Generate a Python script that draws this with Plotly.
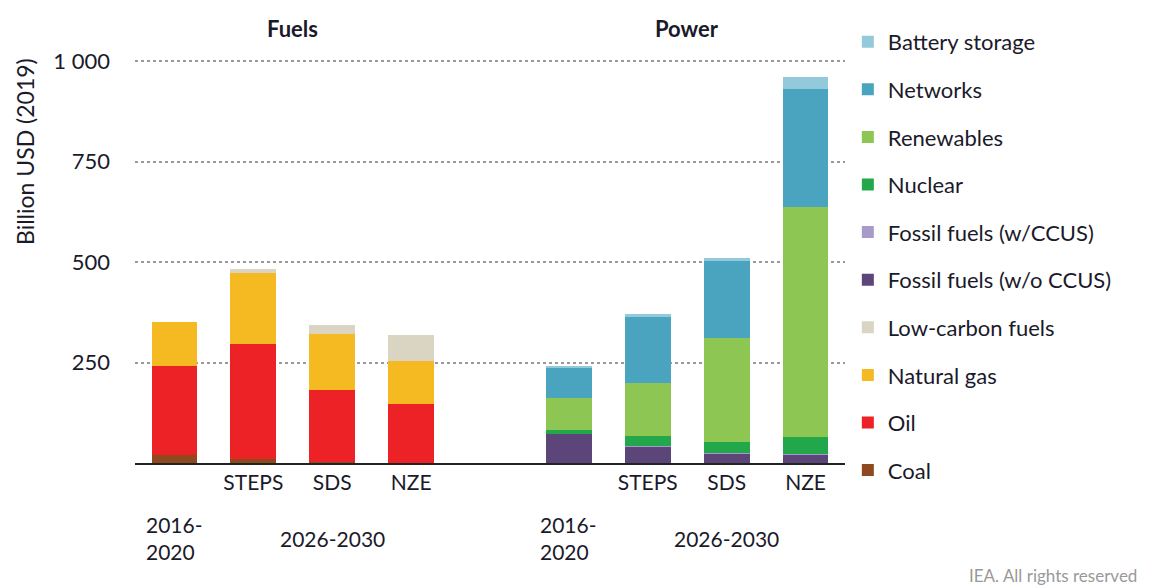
import plotly.graph_objects as go

# slots 0-3: Fuels, slot 4 empty, 5-8: Power
x_pos = [0, 1, 2, 3, 5, 6, 7, 8]
scenarios = ["2016-2020", "STEPS", "SDS", "NZE", "2016-2020", "STEPS", "SDS", "NZE"]

coal = [20, 11, 2, 0, 0, 0, 0, 0]
oil = [221, 286, 180, 147, 0, 0, 0, 0]
natural_gas = [109, 175, 138, 107, 0, 0, 0, 0]
low_carbon = [0, 10, 24, 65, 0, 0, 0, 0]
fossil_wo_ccus = [0, 0, 0, 0, 71, 42, 23, 20]
fossil_w_ccus = [0, 0, 0, 0, 0, 1, 3, 3]
nuclear = [0, 0, 0, 0, 11, 23, 27, 41]
renewables = [0, 0, 0, 0, 80, 132, 258, 573]
networks = [0, 0, 0, 0, 76, 165, 192, 295]
battery = [0, 0, 0, 0, 2, 9, 8, 28]

series = [
    ("Coal", coal, "#8E4A1E"),
    ("Oil", oil, "#EC2227"),
    ("Natural gas", natural_gas, "#F5B921"),
    ("Low-carbon fuels", low_carbon, "#D9D5C2"),
    ("Fossil fuels (w/o CCUS)", fossil_wo_ccus, "#5C4578"),
    ("Fossil fuels (w/CCUS)", fossil_w_ccus, "#A99BC9"),
    ("Nuclear", nuclear, "#22A84B"),
    ("Renewables", renewables, "#8DC653"),
    ("Networks", networks, "#4BA4BF"),
    ("Battery storage", battery, "#92CADB"),
]

y_ticks = [250, 500, 750, 1000]
y_tick_text = ["250", "500", "750", "1 000"]

font = "Lato"
txt = "#1a1a2a"

fig = go.Figure()
for i, (name, vals, col) in enumerate(series):
    fig.add_trace(go.Bar(
        x=x_pos, y=vals, name=name, marker_color=col,
        marker_line_width=0, width=0.58, legendgroup=name,
        legendrank=100 - i,
    ))

# page body has an 8px margin, so the figure is 8px smaller than the window
fig.update_layout(
    barmode="stack",
    width=1141, height=580,
    margin=dict(l=127, r=304, t=52, b=125),
    plot_bgcolor="white", paper_bgcolor="white",
    font=dict(family=font, size=21, color=txt),
    legend=dict(
        x=1.004, y=1.097, xanchor="left", yanchor="top",
        traceorder="grouped", tracegroupgap=16, maxheight=560,
        font=dict(size=22, color=txt), itemwidth=30,
    ),
    bargap=0,
)
fig.update_xaxes(
    range=[-0.5, 8.5], tickvals=[1, 2, 3, 6, 7, 8],
    ticktext=["STEPS", "SDS", "NZE", "STEPS", "SDS", "NZE"],
    showgrid=False, showline=True, linecolor="#222", linewidth=2,
    ticks="", tickfont=dict(size=21), automargin=False,
)
fig.update_yaxes(
    range=[0, 1003], tickvals=y_ticks, ticktext=y_tick_text,
    showgrid=True, gridcolor="#999", griddash="dot", gridwidth=1.5,
    zeroline=False, ticks="", tickfont=dict(size=22), ticklabelstandoff=24,
    automargin=False,
)

# y axis title, centred higher than the plot centre as in the original
fig.add_annotation(x=0, y=1, xref="paper", yref="paper", text="Billion USD (2019)",
                   textangle=-90, showarrow=False, xanchor="center", yanchor="middle",
                   xshift=-110, yshift=-92, font=dict(size=23, color=txt))

for xc, label in [(1.5, "Fuels"), (6.5, "Power")]:
    fig.add_annotation(x=xc, y=1, xref="x", yref="paper", text="<b>" + label + "</b>",
                       showarrow=False, yanchor="middle", yshift=32,
                       font=dict(size=22, color=txt))
for x0, x1 in [(0, 2), (5, 7)]:
    fig.add_annotation(x=x0, y=0, xref="x", yref="y", text="2016-<br>2020",
                       showarrow=False, align="left", yanchor="middle", yshift=-75,
                       font=dict(size=21, color=txt))
    fig.add_annotation(x=x1, y=0, xref="x", yref="y", text="2026-2030",
                       showarrow=False, yanchor="middle", yshift=-75,
                       font=dict(size=21, color=txt))

fig.add_annotation(x=1, y=0, xref="paper", yref="paper", xanchor="right", yanchor="middle",
                   text="IEA. All rights reserved", showarrow=False,
                   font=dict(size=17, color="#999"), yshift=-112, xshift=294)

fig.write_html("out.html")
